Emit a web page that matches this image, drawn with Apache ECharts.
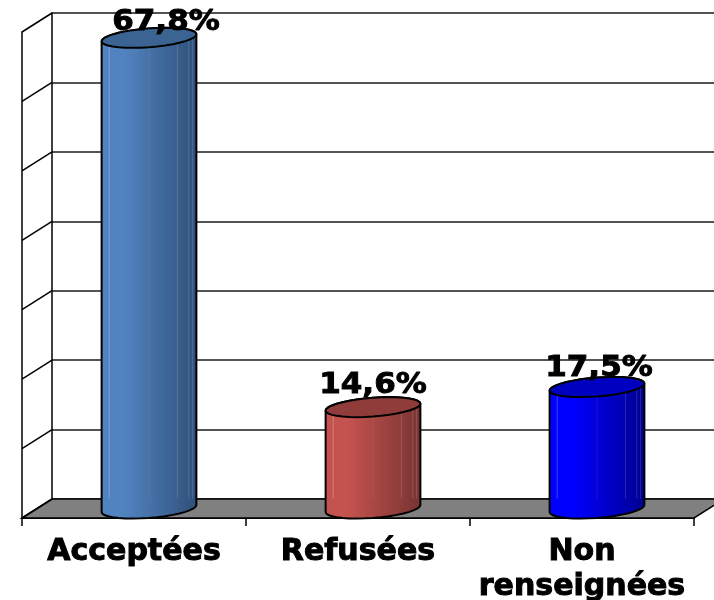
<!DOCTYPE html>
<html>
<head>
<meta charset="utf-8">
<style>html,body{margin:0;padding:0;background:#fff}#chart{width:714px;height:600px}</style>
<script src="https://cdn.jsdelivr.net/npm/echarts@6/dist/echarts.min.js"></script>
</head>
<body>
<div id="chart"></div>
<script>
// Share of requests by outcome, in percent
const categories = ['Acceptées', 'Refusées', 'Non\nrenseignées'];
const shares = [67.8, 14.6, 17.5];
const wallTicks = [0, 10, 20, 30, 40, 50, 60, 70];

// Face colours of each cylinder: lit side, shaded side, cap
const cylinderColors = [
  ['#5183c0', '#2f5078', '#3b6492'],
  ['#c4524f', '#773331', '#8f3c3a'],
  ['#0000ff', '#00008f', '#0000c0']
];
// Offset of each percentage label from the centre of its cap
const labelShiftX = [17, 0, 2];
const labelRaise = [15, 21, 18];

const DEPTH_X = 30, DEPTH_Y = -19;
const INK = '#000';
const FONT = '"DejaVu Sans", Verdana, sans-serif';

const chart = echarts.init(document.getElementById('chart'), null, { renderer: 'canvas' });

function ellipsePoint(cx, cy, rx, ry, tilt, t) {
  return [cx + rx * Math.cos(t), cy + ry * Math.sin(t) - tilt * Math.cos(t)];
}

function renderWalls(params, api) {
  const tick = api.value(0);
  const front = api.coord([0, tick]);
  const left = params.coordSys.x;
  return {
    type: 'line',
    shape: { x1: left, y1: front[1], x2: left + DEPTH_X, y2: front[1] + DEPTH_Y },
    style: { stroke: INK, lineWidth: 1.5 }
  };
}

function renderFloor(params) {
  const c = params.coordSys;
  const y = c.y + c.height, x0 = c.x, x1 = c.x + c.width;
  return {
    type: 'polygon',
    shape: { points: [[x0, y], [x1, y], [x1 + DEPTH_X, y + DEPTH_Y], [x0 + DEPTH_X, y + DEPTH_Y]] },
    style: { fill: '#808080', stroke: INK, lineWidth: 1.5 }
  };
}

function renderCylinder(params, api) {
  const i = params.dataIndex;
  const value = api.value(1);
  const top = api.coord([i, value]);
  const base = api.coord([i, 0]);
  const band = api.size([1, 0])[0];
  const rx = band * 0.2115, ry = 9.4, tilt = 3.5;
  const cx = top[0] + DEPTH_X / 2;
  const cyTop = top[1] + DEPTH_Y / 2;
  const cyBase = base[1] + DEPTH_Y / 2;
  const colors = cylinderColors[i];
  const STEPS = 36;

  // Cap outline and body outline as polygons
  const cap = [];
  for (let k = 0; k < STEPS; k++) {
    cap.push(ellipsePoint(cx, cyTop, rx, ry, tilt, (k / STEPS) * Math.PI * 2));
  }
  const body = [];
  for (let k = 0; k <= STEPS / 2; k++) {
    body.push(ellipsePoint(cx, cyTop, rx, ry, tilt, Math.PI + (k / (STEPS / 2)) * Math.PI));
  }
  for (let k = 0; k <= STEPS / 2; k++) {
    body.push(ellipsePoint(cx, cyBase, rx, ry, tilt, (k / (STEPS / 2)) * Math.PI));
  }

  // Thin highlights along the facets of the body
  const facets = [0.08, 0.5, 0.8, 0.92, 0.96].map(function (f, n) {
    const x = cx - rx + f * rx * 2;
    const u = (x - cx) / rx;
    const yFront = cyTop + ry * Math.sqrt(1 - u * u) - tilt * u;
    return {
      type: 'line',
      shape: { x1: x, y1: yFront, x2: x, y2: cyBase - 10 },
      style: { stroke: '#ffffff', opacity: n === 1 ? 0.08 : (n === 0 ? 0.25 : 0.15), lineWidth: 1 }
    };
  });

  const label = (value.toFixed(1).replace('.', ',')) + '%';

  return {
    type: 'group',
    children: [
      {
        type: 'polygon',
        shape: { points: body },
        style: {
          fill: {
            type: 'linear', x: 0, y: 0, x2: 1, y2: 0,
            colorStops: [
              { offset: 0, color: colors[0] },
              { offset: 0.25, color: colors[0] },
              { offset: 1, color: colors[1] }
            ]
          },
          stroke: INK, lineWidth: 2
        }
      }
    ].concat(facets, [
      {
        type: 'polygon',
        shape: { points: cap },
        style: { fill: colors[2], stroke: INK, lineWidth: 2 }
      },
      {
        type: 'text',
        x: cx + labelShiftX[i],
        y: cyTop - labelRaise[i],
        scaleY: 0.9,
        style: {
          text: label,
          fill: '#000',
          stroke: '#000',
          lineWidth: 1,
          font: 'bold 31px ' + FONT,
          align: 'center',
          verticalAlign: 'middle'
        }
      }
    ])
  };
}

chart.setOption({
  animation: false,
  backgroundColor: '#fff',
  grid: [
    { left: 22, top: 32, width: 672, height: 486, outerBoundsMode: 'none' },
    { left: 52, top: 13, width: 672, height: 486, outerBoundsMode: 'none' }
  ],
  xAxis: [
    {
      gridIndex: 0,
      type: 'category',
      data: categories,
      axisLine: { show: true, lineStyle: { color: INK, width: 2 } },
      axisTick: { show: true, length: 8, lineStyle: { color: INK, width: 1.5 } },
      axisLabel: {
        color: '#000', fontFamily: FONT, fontWeight: 'bold', fontSize: 30,
        lineHeight: 35, margin: 17, interval: 0,
        textBorderColor: '#000', textBorderWidth: 1
      },
      splitLine: { show: false }
    },
    { gridIndex: 1, type: 'category', data: categories, show: false }
  ],
  yAxis: [
    {
      gridIndex: 0, type: 'value', min: 0, max: 70, interval: 10,
      axisLine: { show: true, lineStyle: { color: INK, width: 1.5 } },
      axisTick: { show: false }, axisLabel: { show: false }, splitLine: { show: false }
    },
    {
      gridIndex: 1, type: 'value', min: 0, max: 70, interval: 10,
      axisLine: { show: true, lineStyle: { color: INK, width: 1.5 } },
      axisTick: { show: false }, axisLabel: { show: false },
      splitLine: { show: true, lineStyle: { color: '#1a1a1a', width: 1.5 } }
    }
  ],
  series: [
    {
      type: 'custom', xAxisIndex: 0, yAxisIndex: 0, z: 1,
      data: [[0, 0]],
      renderItem: renderFloor, silent: true
    },
    {
      type: 'custom', xAxisIndex: 0, yAxisIndex: 0, z: 2,
      data: wallTicks.map(function (t) { return [t]; }),
      encode: { y: 0 },
      renderItem: renderWalls, silent: true
    },
    {
      type: 'custom', xAxisIndex: 0, yAxisIndex: 0, z: 5,
      data: shares.map(function (v, i) { return [i, v]; }),
      encode: { x: 0, y: 1 },
      renderItem: renderCylinder, silent: true
    }
  ]
});
</script>
</body>
</html>
